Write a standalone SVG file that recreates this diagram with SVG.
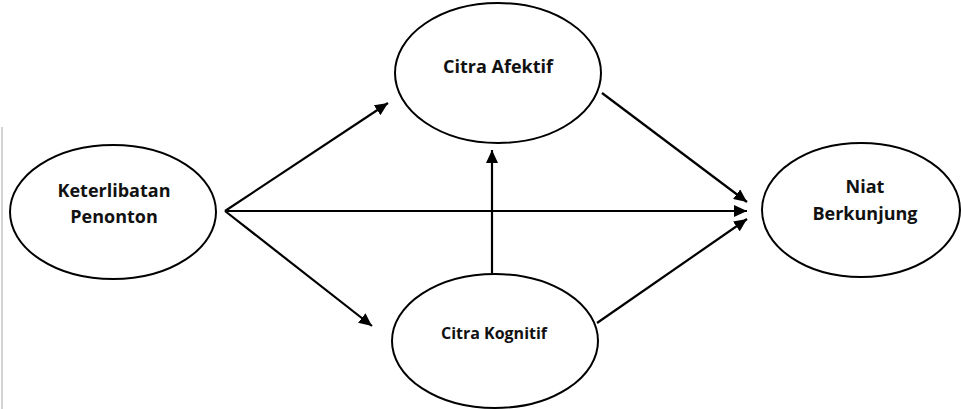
<svg xmlns="http://www.w3.org/2000/svg" width="961" height="409" viewBox="0 0 961 409">
<defs>
<style>
.node ellipse{fill:#fff;stroke:#000;stroke-width:2}
.node text{font-family:"Open Sans","Liberation Sans",sans-serif;font-weight:bold;font-size:18px;fill:#111;text-anchor:middle}
.conn line{stroke:#000;stroke-width:2.2;fill:none}
</style>
<marker id="ah" markerUnits="userSpaceOnUse" markerWidth="14" markerHeight="12" refX="13" refY="6" orient="auto">
<path d="M0,0 L13,6 L0,12 Z" fill="#000"/>
</marker>
</defs>
<rect width="961" height="409" fill="#fff"/>
<line x1="2" y1="127" x2="2" y2="409" stroke="#d4d4d4" stroke-width="2"/>
<g class="conn">
<line x1="225" y1="211" x2="388" y2="103" marker-end="url(#ah)"/>
<line x1="225" y1="211" x2="747" y2="211" marker-end="url(#ah)"/>
<line x1="225" y1="211" x2="372" y2="326" marker-end="url(#ah)"/>
<line x1="492" y1="273" x2="492" y2="150" marker-end="url(#ah)"/>
<line x1="602" y1="93" x2="747" y2="202" marker-end="url(#ah)"/>
<line x1="597" y1="323" x2="747" y2="219" marker-end="url(#ah)"/>
</g>
<g id="keterlibatan" class="node">
<ellipse cx="113" cy="212" rx="103" ry="67"/>
<text x="114" y="197">Keterlibatan</text>
<text x="114" y="223">Penonton</text>
</g>
<g id="afektif" class="node">
<ellipse cx="498" cy="73" rx="103" ry="70"/>
<text x="498" y="73">Citra Afektif</text>
</g>
<g id="kognitif" class="node">
<ellipse cx="495" cy="341" rx="103" ry="67"/>
<text x="494" y="339" style="font-size:16px">Citra Kognitif</text>
</g>
<g id="niat" class="node">
<ellipse cx="861" cy="210" rx="99" ry="67"/>
<text x="865" y="193">Niat</text>
<text x="865" y="220">Berkunjung</text>
</g>
</svg>
